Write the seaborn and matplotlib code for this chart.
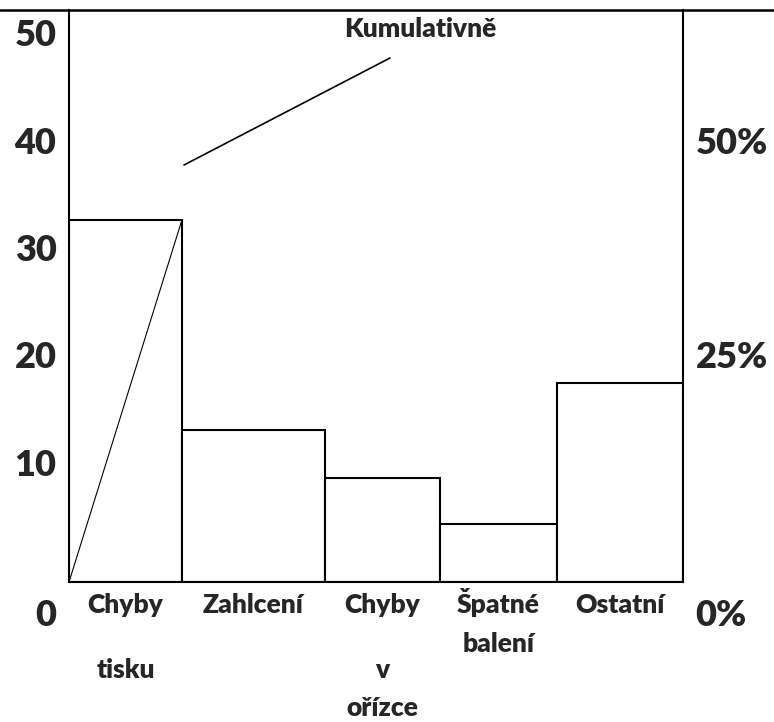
import matplotlib.pyplot as plt
import matplotlib.transforms as mtransforms
from matplotlib.lines import Line2D
import seaborn as sns

# data
categories = ["Chyby\ntisku", "Zahlcení", "Chyby\nv\nořízce", "Špatné\nbalení", "Ostatní"]
counts = [33.7, 14.1, 9.7, 5.4, 18.5]
left_ticks = [0, 10, 20, 30, 40, 50]
right_ticks = [0, 25, 50]
cum_label = "Kumulativně"

# bar widths as drawn (layout, not data)
bar_widths = [113, 143, 115, 117, 126]
pct_full = 80  # value that maps to 100 % on the right axis

sns.set_style("white")
plt.rcParams["font.family"] = ["Lato", "DejaVu Sans"]
plt.rcParams["font.weight"] = "heavy"

W, H = 774, 722
fig = plt.figure(figsize=(W / 100, H / 100), dpi=100)
ax = fig.add_axes([69 / W, (H - 582) / H, (683 - 69) / W, (582 - 10) / H])

lefts = [sum(bar_widths[:i]) for i in range(len(bar_widths))]
ax.bar(lefts, counts, width=bar_widths, align="edge", color="white",
       edgecolor="black", linewidth=1.5, zorder=2)

# cumulative line (only the first step is drawn in the reference)
ax.plot([0, bar_widths[0]], [0, counts[0]], color="black", lw=0.8, zorder=3)

ymax = (582 - 10) / 10.75
ax.set_xlim(0, sum(bar_widths))
ax.set_ylim(0, ymax)

for side in ["left", "right", "bottom"]:
    ax.spines[side].set_visible(True)
    ax.spines[side].set_color("black")
    ax.spines[side].set_linewidth(1.5)
ax.spines["top"].set_visible(False)

ax.set_yticks(left_ticks)
ax.set_yticklabels([str(t) for t in left_ticks])
ax.tick_params(axis="y", length=0, pad=9, labelsize=26)
ax.set_xticks([])


def shift_labels(labels):
    for lab in labels:
        dy = -30 if lab.get_text().startswith("0") else 12
        off = mtransforms.ScaledTranslation(0, dy / 100, fig.dpi_scale_trans)
        lab.set_transform(lab.get_transform() + off)
        lab.set_fontweight("heavy")


shift_labels(ax.get_yticklabels())

ax2 = ax.twinx()
ax2.set_ylim(0, ymax * 100 / pct_full)
ax2.set_yticks(right_ticks)
ax2.set_yticklabels([f"{t}%" for t in right_ticks])
ax2.tick_params(axis="y", length=0, pad=9, labelsize=26)
for s in ax2.spines.values():
    s.set_visible(False)
shift_labels(ax2.get_yticklabels())

# category labels, line by line
line_rows = {
    "Chyby\ntisku": [613, 678],
    "Zahlcení": [613],
    "Chyby\nv\nořízce": [613, 678, 716],
    "Špatné\nbalení": [613, 652],
    "Ostatní": [613],
}
trans = mtransforms.blended_transform_factory(ax.transData, fig.transFigure)
for left, w, name in zip(lefts, bar_widths, categories):
    for line, py in zip(name.split("\n"), line_rows[name]):
        ax.text(left + w / 2, (H - py) / H, line, transform=trans,
                ha="center", va="baseline", fontsize=19, fontweight="heavy",
                clip_on=False)

# leader line and label for the cumulative curve
ax.plot([184 - 69, 390 - 69], [(582 - 165) / 10.75, (582 - 58) / 10.75],
        color="black", lw=1.2, zorder=3)
ax.text(420 - 69, (582 - 37) / 10.75, cum_label, ha="center", va="baseline",
        fontsize=19, fontweight="heavy")

# frame line across the very top
fig.add_artist(Line2D([0, 1], [(H - 10) / H] * 2, color="black", lw=1.8))

fig.savefig("out.png", dpi=100)
